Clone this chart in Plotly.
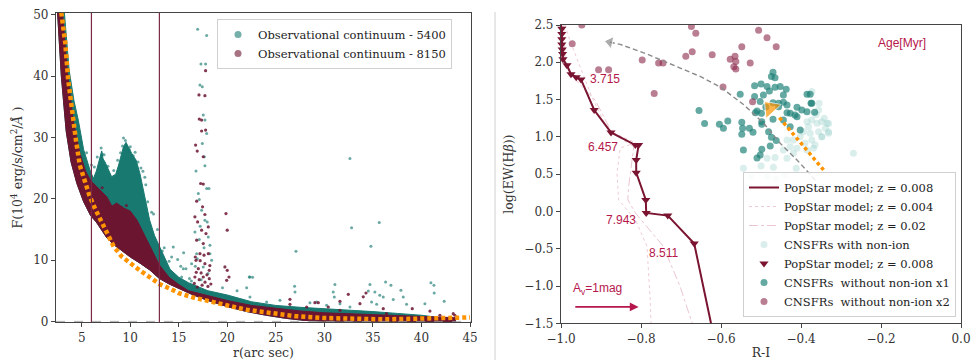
import plotly.graph_objects as go

# ================= LEFT PANEL DATA =================
r_model = [2.8, 3.0, 3.3, 3.6, 4.0, 4.4, 4.8, 5.3, 5.8, 6.4, 7.0, 7.6, 8.3, 9.1, 10.0, 11.0,
           12.0, 13.0, 14.0, 15.0, 16.5, 18.0, 20.0, 22.0, 24.5, 27.0, 30.0, 33.0, 36.0, 39.0, 42.0, 45.0]
F_model = [51.5, 49.0, 45.5, 39.5, 34.0, 29.6, 25.5, 22.8, 20.5, 18.3, 16.3, 14.2, 12.2, 10.6, 9.4, 8.3,
           7.2, 6.1, 5.4, 4.6, 3.9, 3.3, 2.6, 1.9, 1.3, 0.85, 0.55, 0.38, 0.33, 0.42, 0.52, 0.65]
r_cut = [6, 13]

# envelopes of the dense point clouds
r_5400_top = [2.5, 3.2, 3.7, 4.2, 4.65, 5.2, 5.85, 6.2, 6.5, 6.8, 7.06, 7.2, 7.4, 8.08, 8.5, 8.8, 9.3, 9.56,
              10.15, 10.6, 11.0, 11.5, 12.0, 12.5, 13.06, 14.1, 15.0, 16.0, 18.0, 20.0, 22.5, 25.0, 27.5,
              30.0, 32.5, 35.0, 37.5, 40.0, 42.0, 43.5]
F_5400_top = [50.6, 50.6, 41.0, 36.0, 32.8, 28.0, 24.7, 23.3, 24.5, 26.3, 27.8, 26.5, 26.0, 23.6, 24.0, 25.5,
              28.5, 29.2, 27.4, 26.3, 24.1, 20.3, 16.5, 14.0, 12.1, 8.5, 7.2, 6.3, 5.0, 4.3, 3.2, 2.6, 2.3,
              2.1, 1.9, 1.6, 1.3, 1.0, 0.6, 0.3]
r_8150_top = [2.5, 3.0, 3.5, 4.1, 4.8, 5.4, 5.9, 6.5, 6.9, 7.2, 7.6, 8.1, 8.6, 9.3, 10.0, 10.7, 11.4, 12.2,
              13.0, 14.0, 15.0, 16.0, 18.0, 20.0, 22.5, 25.0, 27.5, 30.0, 33.0, 36.0, 40.0, 43.5]
F_8150_top = [50.6, 50.6, 41.0, 33.0, 27.5, 24.5, 23.0, 22.0, 21.5, 21.0, 20.3, 18.8, 19.3, 18.5, 18.0, 16.5,
              14.3, 11.8, 9.2, 7.2, 6.0, 5.0, 4.2, 3.4, 2.6, 2.1, 1.7, 1.4, 1.2, 1.0, 0.8, 0.6]
r_8150_bot = [2.5, 2.9, 3.4, 3.9, 4.5, 5.2, 5.9, 6.5, 7.0, 7.6, 8.3, 9.0, 10.0, 11.0, 12.0, 13.0, 14.0,
              15.0, 16.5, 18.0, 20.0, 22.0, 24.0, 26.0, 28.0, 30.0, 35.0, 40.0, 43.5]
F_8150_bot = [50.6, 40.0, 31.0, 26.0, 22.5, 19.5, 17.3, 16.2, 15.0, 13.6, 12.5, 11.7, 10.5, 9.5, 8.4, 7.0,
              6.1, 5.3, 4.3, 3.4, 2.4, 1.6, 1.0, 0.5, 0.15, 0.05, 0.0, 0.0, 0.0]

# scattered points (outside dense clouds)
r_5400_pts = [16.94, 17.87, 17.28, 17.76, 17.18, 17.42, 17.52, 17.69, 17.87, 17.42, 17.63, 17.69, 16.77,
              17.87, 18.11, 17.01, 17.11, 17.35, 17.69, 17.93, 16.66, 18.04, 17.11, 16.84, 18.21, 14.43,
              14.26, 14.88, 15.46, 15.74, 16.32, 17.52, 18.38, 15.29, 22.33, 21.99, 18.21,
              7.0, 7.1, 9.3, 9.5, 9.2, 9.9, 10.3, 10.8, 11.1, 11.3, 11.5, 11.6, 12.4, 12.8, 13.5, 15.5,
              15.2, 16.1, 16.3, 19.5, 21.0, 22.6,
              32.63, 32.80, 35.65, 34.79, 27.07, 22.26, 31.08, 34.69, 36.3, 36.85, 37.88, 40.97, 41.28,
              41.31, 42.34, 26.93, 26.97, 30.91, 31.02, 34.52, 35.2, 35.7, 34.86, 35.38, 36.06, 37.09,
              38.12, 38.46, 30.23, 31.6, 28.51, 24.05, 25.42, 22.33, 29.2, 40.35, 32.63, 16.9, 17.3,
              17.6, 18.0, 17.2, 16.7,
              5.5, 6.0, 6.3, 6.6, 7.3, 7.7, 8.3, 8.7, 9.0, 10.0, 10.5, 11.8, 12.2, 13.3, 14.0]
F_5400_pts = [47.66, 46.62, 41.99, 41.99, 38.56, 38.29, 33.66, 32.84, 30.66, 29.03, 26.85, 25.38, 24.51,
              21.68, 21.68, 20.86, 19.88, 18.14, 16.5, 16.23, 14.6, 13.78, 13.34, 11.05, 12.42, 12.14,
              10.51, 10.08, 8.6, 8.6, 9.42, 8.88, 9.96, 7.24, 7.24, 5.5, 11.05,
              28.3, 27.3, 29.9, 29.5, 28.6, 28.0, 27.0, 26.0, 25.0, 24.5, 23.5, 22.3, 17.5, 15.0, 12.0, 11.2,
              9.0, 7.0, 6.6, 5.5, 5.0, 7.2,
              26.58, 15.26, 16.13, 12.26, 11.44, 7.25, 6.0, 6.0, 6.43, 5.9, 5.07, 6.32, 5.9,
              4.64, 3.27, 5.72, 4.8, 4.8, 3.98, 4.96, 4.8, 4.25, 3.16, 2.78, 3.98, 3.55,
              3.98, 2.78, 2.62, 2.89, 3.05, 3.16, 3.44, 3.98, 3.16, 2.89, 2.35, 10.2, 6.8,
              12.0, 7.8, 15.5, 9.0,
              27.5, 25.5, 25.2, 26.8, 27.2, 25.3, 24.6, 26.3, 27.5, 28.5, 27.6, 19.5, 17.8, 11.5, 9.8]
r_8150_pts = [17.76, 17.08, 17.69, 17.11, 17.35, 17.35, 17.76, 16.73, 16.9, 17.52, 17.25, 17.52, 16.84,
              17.45, 16.66, 17.69, 19.86, 19.99, 16.94, 18.04, 17.35, 17.8, 16.84, 17.52, 17.18, 18.04,
              16.77, 17.69, 17.01, 18.14, 19.75, 19.99, 20.17, 16.66, 17.52, 18.14, 19.93,
              16.6, 16.9, 17.1, 17.4, 17.7, 18.0, 18.3, 16.8, 17.3, 17.9, 16.7, 17.2, 17.6, 18.2,
              32.46, 34.0, 34.28, 26.45, 29.02, 29.37, 31.6, 33.66, 36.06, 39.05, 40.87, 43.27, 43.44,
              30.4, 36.4, 41.9, 31.6, 28.17, 26.45, 7.1, 9.1, 9.6]
F_8150_pts = [40.9, 36.93, 36.82, 33.0, 32.84, 31.05, 31.21, 28.76, 27.78, 26.85, 22.49, 22.39, 19.61,
              18.68, 17.05, 17.43, 17.59, 14.87, 16.23, 15.41, 14.87, 14.33, 13.24, 12.69, 11.05, 11.05,
              9.96, 9.42, 8.6, 8.33, 8.88, 8.33, 7.24, 7.24, 7.24, 6.97, 6.7,
              6.2, 5.6, 6.8, 5.9, 6.4, 5.7, 6.1, 8.0, 7.9, 7.6, 10.5, 9.9, 10.8, 9.1,
              4.42, 4.0, 4.63, 3.6, 3.05, 3.05, 3.27, 2.89, 2.07, 2.07, 1.69, 1.26, 1.0,
              2.35, 1.26, 1.0, 1.8, 2.35, 2.78, 21.8, 18.6, 18.9]

# ================= RIGHT PANEL DATA =================
ri_z008 = [-1.0, -0.998, -0.998, -0.998, -0.998, -0.997, -0.996, -0.995, -0.985, -0.975, -0.962, -0.95,
           -0.917, -0.875, -0.814, -0.806, -0.812, -0.812, -0.788, -0.787, -0.733, -0.667, -0.625]
ew_z008 = [2.5, 2.45, 2.38, 2.31, 2.24, 2.17, 2.11, 2.04, 1.96, 1.84, 1.80, 1.77,
           1.36, 1.06, 0.89, 0.89, 0.69, 0.52, 0.155, -0.02, -0.056, -0.43, -1.5]
ri_z008_mk = ri_z008[1:-1]
ew_z008_mk = ew_z008[1:-1]

ri_z004 = [-0.99, -0.977, -0.923, -0.883, -0.814, -0.852, -0.86, -0.856, -0.814, -0.785, -0.777, -0.775]
ew_z004 = [2.5, 2.28, 1.54, 1.09, 0.92, 0.85, 0.51, 0.155, -0.11, -0.47, -1.19, -1.5]
ri_z02 = [-0.993, -0.989, -0.956, -0.914, -0.872, -0.818, -0.831, -0.833, -0.814, -0.744, -0.702, -0.672]
ew_z02 = [2.5, 1.94, 1.72, 1.49, 1.05, 0.87, 0.33, 0.155, -0.02, -0.47, -1.01, -1.5]

ri_nonion = [-0.373, -0.385, -0.373, -0.360, -0.348, -0.335, -0.381, -0.394, -0.377, -0.356, -0.339, -0.331,
             -0.348, -0.373, -0.390, -0.365, -0.402, -0.419, -0.435, -0.427, -0.410, -0.444, -0.385, -0.369,
             -0.485, -0.465, -0.269, -0.544, -0.525, -0.500, -0.484, -0.469, -0.462, -0.441, -0.412, -0.435,
             -0.419, -0.356, -0.331, -0.331, -0.348, -0.362, -0.342, -0.355]
ew_nonion = [1.607, 1.204, 1.227, 1.182, 1.204, 1.182, 1.137, 1.070, 1.048, 1.070, 1.115, 1.070,
             1.003, 0.959, 0.914, 0.892, 1.003, 0.959, 0.959, 0.869, 0.847, 0.825, 0.825, 0.847,
             0.713, 0.722, 0.780, 0.579, 0.467, 0.610, 0.467, 0.592, 0.436, 0.481, 0.579, 0.713,
             0.780, 1.36, 1.18, 1.05, 1.0, 1.30, 1.25, 1.45]

ri_x1 = [-0.470, -0.474, -0.465, -0.516, -0.500, -0.485, -0.465, -0.452, -0.437, -0.444, -0.479, -0.494,
         -0.552, -0.385, -0.516, -0.502, -0.470, -0.456, -0.444, -0.435, -0.456, -0.410, -0.398, -0.385,
         -0.375, -0.366, -0.510, -0.514, -0.499, -0.435, -0.427, -0.415, -0.410, -0.470, -0.444, -0.498,
         -0.655, -0.641, -0.604, -0.594, -0.583, -0.548, -0.546, -0.548, -0.529, -0.520, -0.498, -0.481,
         -0.474, -0.462, -0.477, -0.498, -0.502, -0.510, -0.544, -0.427, -0.402, -0.377, -0.373, -0.488]
ew_x1 = [1.866, 1.808, 1.794, 1.687, 1.709, 1.674, 1.665, 1.674, 1.638, 1.562, 1.615, 1.562,
         1.571, 1.571, 1.540, 1.473, 1.459, 1.450, 1.464, 1.428, 1.405, 1.396, 1.361, 1.338,
         1.450, 1.330, 1.347, 1.325, 1.316, 1.325, 1.316, 1.294, 1.271, 1.236, 1.227, 1.204,
         1.352, 1.178, 1.169, 1.115, 1.213, 1.195, 1.115, 1.035, 1.115, 1.061, 1.169, 1.070,
         0.994, 0.950, 0.878, 0.834, 0.758, 0.717, 0.825, 1.137, 1.093, 1.57, 1.45, 1.40]

ri_x2 = [-0.674, -0.663, -0.506, -0.485, -0.462, -0.548, -0.672, -0.688, -0.622, -0.577, -0.565, -0.563,
         -0.568, -0.563, -0.527, -0.797, -0.756, -0.745, -0.595, -0.767, -0.521, -0.906, -0.881, -0.972, -0.948]
ew_x2 = [2.48, 2.39, 2.43, 2.33, 2.21, 2.21, 2.14, 2.08, 2.10, 2.04, 2.08, 2.01,
         1.94, 1.91, 1.99, 2.03, 1.99, 1.99, 1.67, 1.58, 1.47, 1.90, 1.90, 2.25, 2.50]

ri_age_arrow = [-0.364, -0.41, -0.452, -0.493, -0.543, -0.602, -0.652, -0.718, -0.785, -0.852, -0.878]
ew_age_arrow = [0.42, 0.69, 0.914, 1.18, 1.43, 1.67, 1.81, 1.96, 2.11, 2.24, 2.27]
ri_red_arrow = [-0.3435, -0.455, -0.476]
ew_red_arrow = [0.556, 1.263, 1.385]

age_text = ["3.715", "6.457", "7.943", "8.511"]
age_ri = [-0.891, -0.894, -0.849, -0.745]
age_ew = [1.776, 0.86, -0.114, -0.56]

# ================= STYLES =================
TEAL = "rgb(24,121,113)"
MAROON = "rgb(108,21,49)"
LINE_RED = "#7a1431"
LABEL_RED = "#b5174c"
ORANGE = "rgb(255,148,0)"
SERIF = "DejaVu Serif"
SANS = "Liberation Sans"

fig = go.Figure()

# ---------- left panel ----------
fig.add_trace(go.Scatter(x=r_5400_top + r_8150_bot[::-1], y=F_5400_top + F_8150_bot[::-1],
                         fill="toself", fillcolor=TEAL, mode="lines", line=dict(color=TEAL, width=1),
                         showlegend=False, hoverinfo="skip", xaxis="x", yaxis="y"))
fig.add_trace(go.Scatter(x=r_5400_pts, y=F_5400_pts, mode="markers",
                         marker=dict(color="rgba(24,121,113,0.65)", size=3),
                         showlegend=False, xaxis="x", yaxis="y"))
fig.add_trace(go.Scatter(x=r_8150_top + r_8150_bot[::-1], y=F_8150_top + F_8150_bot[::-1],
                         fill="toself", fillcolor=MAROON, mode="lines", line=dict(color=MAROON, width=1),
                         showlegend=False, hoverinfo="skip", xaxis="x", yaxis="y"))
fig.add_trace(go.Scatter(x=r_8150_pts, y=F_8150_pts, mode="markers",
                         marker=dict(color="rgba(108,21,49,0.85)", size=3.2),
                         showlegend=False, xaxis="x", yaxis="y"))
fig.add_trace(go.Scatter(x=r_model, y=F_model, mode="lines", line=dict(color=ORANGE, width=4.5, dash="4px,3px"),
                         showlegend=False, xaxis="x", yaxis="y"))
# legend entries for the left panel
fig.add_trace(go.Scatter(x=[None], y=[None], mode="markers", marker=dict(color="rgba(24,121,113,0.6)", size=7),
                         name="Observational continuum - 5400", legend="legend", xaxis="x", yaxis="y"))
fig.add_trace(go.Scatter(x=[None], y=[None], mode="markers", marker=dict(color="rgba(108,21,49,0.6)", size=7),
                         name="Observational continuum - 8150", legend="legend", xaxis="x", yaxis="y"))

# ---------- right panel ----------
fig.add_trace(go.Scatter(x=ri_nonion, y=ew_nonion, mode="markers",
                         marker=dict(color="rgba(150,205,200,0.35)", size=7),
                         name="CNSFRs with non-ion", legend="legend2", legendrank=4, xaxis="x2", yaxis="y2"))
fig.add_trace(go.Scatter(x=ri_x1, y=ew_x1, mode="markers",
                         marker=dict(color="rgba(28,128,120,0.68)", size=7),
                         name="CNSFRs\u00a0 without non-ion x1", legend="legend2", legendrank=6,
                         xaxis="x2", yaxis="y2"))
fig.add_trace(go.Scatter(x=ri_x2, y=ew_x2, mode="markers",
                         marker=dict(color="rgba(140,40,75,0.6)", size=7),
                         name="CNSFRs\u00a0 without non-ion x2", legend="legend2", legendrank=7,
                         xaxis="x2", yaxis="y2"))
fig.add_trace(go.Scatter(x=ri_z004, y=ew_z004, mode="lines",
                         line=dict(color="rgba(205,110,135,0.35)", width=1, dash="dot"),
                         name="PopStar model; z = 0.004", legend="legend2", legendrank=2, xaxis="x2", yaxis="y2"))
fig.add_trace(go.Scatter(x=ri_z02, y=ew_z02, mode="lines",
                         line=dict(color="rgba(205,110,135,0.4)", width=1, dash="dashdot"),
                         name="PopStar model; z = 0.02", legend="legend2", legendrank=3, xaxis="x2", yaxis="y2"))
fig.add_trace(go.Scatter(x=ri_z008, y=ew_z008, mode="lines", line=dict(color=LINE_RED, width=2),
                         name="PopStar model; z = 0.008", legend="legend2", legendrank=1, xaxis="x2", yaxis="y2"))
fig.add_trace(go.Scatter(x=ri_z008_mk, y=ew_z008_mk, mode="markers",
                         marker=dict(color=LINE_RED, size=8, symbol="triangle-down"),
                         name="PopStar model; z = 0.008", legend="legend2", legendrank=5,
                         cliponaxis=False, xaxis="x2", yaxis="y2"))
fig.add_trace(go.Scatter(x=ri_age_arrow, y=ew_age_arrow, mode="lines+markers",
                         line=dict(color="#8a8a8a", width=1.4, dash="5px,3px"),
                         marker=dict(color="#8a8a8a", size=[0] * (len(ri_age_arrow) - 1) + [11],
                                     symbol="triangle-up", angleref="previous"),
                         showlegend=False, xaxis="x2", yaxis="y2"))
fig.add_trace(go.Scatter(x=ri_red_arrow[:2], y=ew_red_arrow[:2], mode="lines",
                         line=dict(color=ORANGE, width=3.5, dash="3.5px,3px"),
                         showlegend=False, xaxis="x2", yaxis="y2"))
fig.add_trace(go.Scatter(x=ri_red_arrow[1:], y=ew_red_arrow[1:], mode="markers",
                         marker=dict(color=ORANGE, size=[0, 18], symbol="triangle-up", angleref="previous"),
                         showlegend=False, xaxis="x2", yaxis="y2"))

annotations = []
for t, xx, yy in zip(age_text, age_ri, age_ew):
    annotations.append(dict(x=xx, y=yy, xref="x2", yref="y2", text=t, showarrow=False,
                            font=dict(family=SANS, size=12, color=LABEL_RED)))
annotations.append(dict(x=-0.148, y=2.263, xref="x2", yref="y2", text="Age[Myr]", showarrow=False,
                        font=dict(family=SANS, size=12, color=LABEL_RED)))
annotations.append(dict(x=-0.908, y=-1.04, xref="x2", yref="y2", text="A<sub>v</sub>=1mag", showarrow=False,
                        font=dict(family=SANS, size=12, color=LABEL_RED)))
annotations.append(dict(x=-0.806, y=-1.28, ax=-0.968, ay=-1.28, xref="x2", yref="y2", axref="x2", ayref="y2",
                        text="", showarrow=True, arrowhead=2, arrowsize=1.1, arrowwidth=1.6,
                        arrowcolor=LABEL_RED))

shapes = []
for rc in r_cut:
    shapes.append(dict(type="line", xref="x", yref="y domain", x0=rc, x1=rc, y0=0, y1=1,
                       line=dict(color="#7a2a46", width=1.2)))
shapes.append(dict(type="line", xref="x domain", yref="y", x0=0, x1=1, y0=0, y1=0,
                   line=dict(color="#999", width=0.8, dash="dash")))
shapes.append(dict(type="line", xref="paper", yref="paper", x0=495 / 971, x1=495 / 971, y0=0, y1=1 - 12 / 360,
                   line=dict(color="#d0d0d0", width=1)))

axis_common = dict(showline=True, mirror=True, linecolor="#444", linewidth=1.2, ticks="outside", ticklen=4,
                   tickcolor="#444", showgrid=False, zeroline=False, automargin=False,
                   tickfont=dict(family=SERIF, size=12, color="#333"))

fig.update_layout(
    width=971, height=360, margin=dict(l=0, r=0, t=0, b=0),
    paper_bgcolor="white", plot_bgcolor="white",
    xaxis=dict(domain=[56 / 971, 471 / 971], range=[2.35, 45.1], tickvals=[5, 10, 15, 20, 25, 30, 35, 40, 45],
               title=dict(text="r(arc sec)", standoff=3, font=dict(family=SERIF, size=12.5, color="#333")),
               anchor="y", **axis_common),
    yaxis=dict(domain=[1 - 322 / 360, 1 - 13 / 360], range=[-0.1, 50.3], tickvals=[0, 10, 20, 30, 40, 50],
               title=dict(text="F(10<sup>4</sup> erg/s/cm<sup>2</sup>/<i>Å</i> )", standoff=7,
                          font=dict(family=SERIF, size=12.5, color="#333")),
               anchor="x", **axis_common),
    xaxis2=dict(domain=[561 / 971, 961 / 971], range=[-1.0, 0.0], tickvals=[-1.0, -0.8, -0.6, -0.4, -0.2, 0.0],
                tickformat=".1f",
                title=dict(text="R-I", standoff=3, font=dict(family=SERIF, size=12.5, color="#333")),
                anchor="y2", **axis_common),
    yaxis2=dict(domain=[1 - 323.3 / 360, 1 - 25 / 360], range=[-1.5, 2.5],
                tickvals=[-1.5, -1.0, -0.5, 0.0, 0.5, 1.0, 1.5, 2.0, 2.5], tickformat=".1f",
                title=dict(text="log(EW(H<i>β</i>))", standoff=7, font=dict(family=SERIF, size=12.5, color="#333")),
                anchor="x2", **axis_common),
    legend=dict(x=217 / 971, y=1 - 19 / 360, xanchor="left", yanchor="top", bgcolor="rgba(255,255,255,0.85)",
                bordercolor="#d0d0d0", borderwidth=1,
                font=dict(family=SERIF, size=11.5, color="#222")),
    legend2=dict(x=956 / 971, y=1 - 317 / 360, xanchor="right", yanchor="bottom",
                 bgcolor="rgba(255,255,255,0.85)", bordercolor="#d0d0d0", borderwidth=1,
                 font=dict(family=SERIF, size=11.5, color="#222")),
    annotations=annotations, shapes=shapes,
)

fig.write_html("out.html", config={"displayModeBar": False},
               post_script="document.body.style.margin='0';document.body.style.padding='0';")
